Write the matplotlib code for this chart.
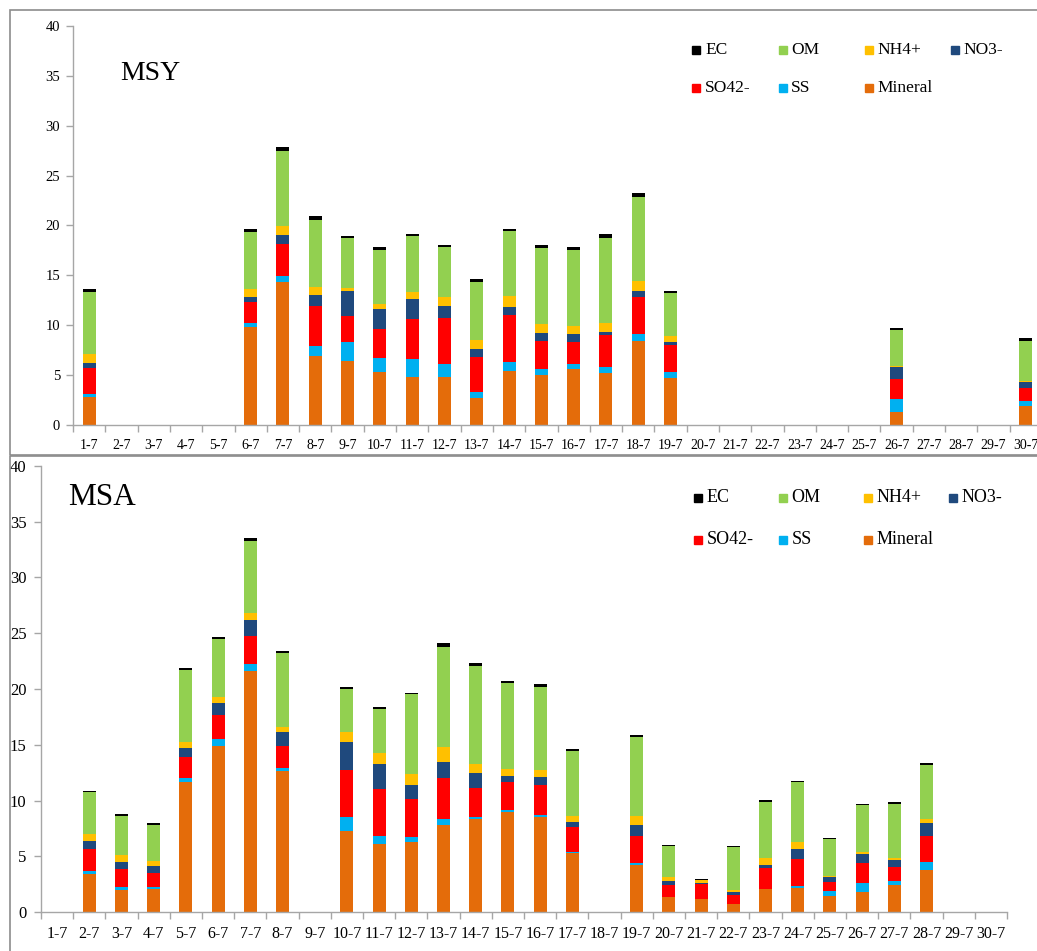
import numpy as np
import matplotlib
matplotlib.use("Agg")
from matplotlib import pyplot as plt
from matplotlib.patches import Rectangle

plt.rcParams['font.family'] = ['Liberation Serif', 'DejaVu Serif']

day_labels = ["%d-7" % d for d in range(1, 31)]
components = ["Mineral", "SS", "SO42-", "NO3-", "NH4+", "OM", "EC"]
colors = {"Mineral": "#E46C0A", "SS": "#00B0F0", "SO42-": "#FF0000",
          "NO3-": "#1F497D", "NH4+": "#FFC000", "OM": "#92D050", "EC": "#000000"}
legend_order = ["EC", "OM", "NH4+", "NO3-", "SO42-", "SS", "Mineral"]

# MSY site (top)
msy_days = [1, 6, 7, 8, 9, 10, 11, 12, 13, 14, 15, 16, 17, 18, 19, 26, 30]
msy_mineral = [2.77, 9.86, 14.37, 6.92, 6.41, 5.35, 4.84, 4.78, 2.67, 5.41, 4.98, 5.61, 5.18, 8.42, 4.68, 1.27, 1.90]
msy_ss = [0.34, 0.33, 0.60, 1.00, 1.88, 1.37, 1.74, 1.33, 0.67, 0.87, 0.63, 0.54, 0.67, 0.73, 0.67, 1.30, 0.51]
msy_so4 = [2.57, 2.14, 3.17, 4.04, 2.67, 2.87, 4.01, 4.58, 3.44, 4.75, 2.81, 2.17, 3.17, 3.65, 2.64, 2.04, 1.33]
msy_no3 = [0.50, 0.53, 0.87, 1.10, 2.50, 2.04, 2.01, 1.24, 0.80, 0.76, 0.80, 0.77, 0.34, 0.63, 0.33, 1.24, 0.57]
msy_nh4 = [0.90, 0.74, 0.94, 0.74, 0.31, 0.50, 0.73, 0.87, 0.97, 1.14, 0.90, 0.80, 0.83, 1.00, 0.63, 0.10, 0.10]
msy_om = [6.28, 5.78, 7.51, 6.75, 4.94, 5.41, 5.61, 5.01, 5.82, 6.52, 7.65, 7.65, 8.52, 8.39, 4.31, 3.57, 4.01]
msy_ec = [0.24, 0.23, 0.44, 0.43, 0.27, 0.33, 0.24, 0.23, 0.30, 0.23, 0.27, 0.33, 0.40, 0.40, 0.17, 0.17, 0.27]

# MSA site (bottom)
msa_days = [2, 3, 4, 5, 6, 7, 8, 10, 11, 12, 13, 14, 15, 16, 17, 19, 20, 21, 22, 23, 24, 25, 26, 27, 28]
msa_mineral = [3.43, 2.00, 2.06, 11.70, 14.93, 21.61, 12.66, 7.28, 6.09, 6.30, 7.85, 8.36, 8.96, 8.57, 5.28, 4.24,
               1.34, 1.22, 0.75, 2.06, 2.15, 1.49, 1.85, 2.45, 3.79]
msa_ss = [0.30, 0.30, 0.24, 0.30, 0.56, 0.60, 0.30, 1.23, 0.78, 0.42, 0.51, 0.21, 0.20, 0.15, 0.15, 0.15,
          0.06, 0.00, 0.00, 0.03, 0.24, 0.45, 0.75, 0.36, 0.75]
msa_so4 = [1.91, 1.58, 1.25, 1.88, 2.18, 2.57, 1.94, 4.24, 4.17, 3.40, 3.64, 2.56, 2.51, 2.71, 2.18, 2.48,
           1.05, 1.31, 0.80, 1.85, 2.36, 0.81, 1.79, 1.28, 2.33]
msa_no3 = [0.75, 0.63, 0.60, 0.84, 1.05, 1.40, 1.22, 2.47, 2.21, 1.28, 1.46, 1.38, 0.54, 0.66, 0.51, 0.95,
           0.39, 0.12, 0.24, 0.30, 0.89, 0.44, 0.83, 0.60, 1.16]
msa_nh4 = [0.62, 0.62, 0.48, 0.56, 0.53, 0.66, 0.51, 0.96, 0.99, 0.96, 1.32, 0.77, 0.63, 0.66, 0.54, 0.84,
           0.29, 0.24, 0.21, 0.60, 0.69, 0.09, 0.21, 0.21, 0.33]
msa_om = [3.74, 3.53, 3.19, 6.42, 5.26, 6.41, 6.56, 3.82, 3.94, 7.19, 9.01, 8.78, 7.67, 7.46, 5.79, 7.07,
          2.81, 0.04, 3.82, 5.07, 5.31, 3.26, 4.15, 4.80, 4.83]
msa_ec = [0.15, 0.15, 0.15, 0.21, 0.18, 0.24, 0.24, 0.21, 0.18, 0.12, 0.30, 0.24, 0.24, 0.21, 0.18, 0.15,
          0.09, 0.04, 0.12, 0.15, 0.15, 0.09, 0.12, 0.15, 0.15]

msy = dict(zip(components, [msy_mineral, msy_ss, msy_so4, msy_no3, msy_nh4, msy_om, msy_ec]))
msa = dict(zip(components, [msa_mineral, msa_ss, msa_so4, msa_no3, msa_nh4, msa_om, msa_ec]))


def full_month(days, vals):
    arr = np.zeros(30)
    arr[np.array(days) - 1] = vals
    return arr


def draw_panel(ax, days, series, title, fs, title_fs, title_xy, leg_x0, leg_y0, leg_dx, leg_dy, leg_fs, ypad):
    x = np.arange(30)
    bottom = np.zeros(30)
    for comp in components:
        vals = full_month(days, series[comp])
        ax.bar(x, vals, width=0.4, bottom=bottom, color=colors[comp], linewidth=0)
        bottom += vals

    ax.set_xlim(-0.5, 29.5)
    ax.set_ylim(0, 40)
    ax.set_yticks(range(0, 41, 5))
    ax.set_xticks(np.arange(-0.5, 30, 1))
    ax.set_xticklabels([])
    ax.set_xticks(x, minor=True)
    ax.set_xticklabels(day_labels, minor=True, fontsize=fs)
    ax.tick_params(axis='x', which='major', length=5, color='#A6A6A6', width=1)
    ax.tick_params(axis='x', which='minor', length=0, pad=10)
    ax.tick_params(axis='y', length=5, color='#A6A6A6', width=1, labelsize=fs + 0.5, pad=ypad)
    for s in ['top', 'right']:
        ax.spines[s].set_visible(False)
    for s in ['left', 'bottom']:
        ax.spines[s].set_color('#A6A6A6')
        ax.spines[s].set_linewidth(1)

    ax.text(title_xy[0], title_xy[1], title, transform=ax.transAxes, fontsize=title_fs,
            va='baseline', ha='left')

    for i, comp in enumerate(legend_order):
        lx = leg_x0 + (i % 4) * leg_dx
        ly = leg_y0 - (i // 4) * leg_dy
        ax.plot([lx], [ly], marker='s', markersize=5.5, color=colors[comp], linestyle='none',
                transform=ax.transAxes, clip_on=False)
        ax.text(lx + 0.009, ly, comp, transform=ax.transAxes, fontsize=leg_fs, va='center', ha='left')


fig = plt.figure(figsize=(10.37, 9.51), dpi=100)

# panel frames
fig.add_artist(Rectangle((9.5 / 1037, 1 - 455 / 951), 1.2, 445 / 951, transform=fig.transFigure,
                         fill=False, edgecolor='#8C8C8C', linewidth=1.2, clip_on=False))
fig.add_artist(Rectangle((10 / 1037, -0.2), 1.2, 0.2 + (1 - 456 / 951), transform=fig.transFigure,
                         fill=False, edgecolor='#8C8C8C', linewidth=1.2, clip_on=False))

ax1 = fig.add_axes([73 / 1037, 1 - 425 / 951, 969 / 1037, 399 / 951])
draw_panel(ax1, msy_days, msy, "MSY", 10, 20, (0.049, 0.865),
           0.6434, 0.94, 0.0888, 0.095, 12.5, 4.3)

ax2 = fig.add_axes([41 / 1037, 1 - 912.3 / 951, 966 / 1037, 446.6 / 951])
draw_panel(ax2, msa_days, msa, "MSA", 11.5, 22.5, (0.028, 0.912),
           0.680, 0.928, 0.088, 0.094, 13, 5.5)

fig.savefig("out.png", dpi=100)
